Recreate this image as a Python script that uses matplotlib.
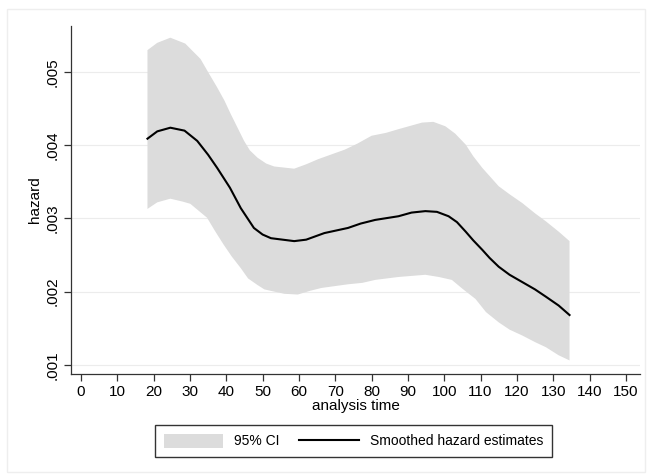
import matplotlib
matplotlib.use('Agg')
import matplotlib.pyplot as plt
from matplotlib.patches import Rectangle

plt.rcParams['font.family'] = ['Liberation Sans', 'DejaVu Sans']

# smoothed hazard estimate
t_line = [18.3, 21.0, 24.6, 28.5, 32.0, 35.0, 37.5, 41.0, 44.0, 47.6, 50.0, 52.3, 58.7, 62.0,
          67.0, 73.5, 77.0, 81.0, 87.4, 91.0, 94.8, 98.0, 101.2, 103.5, 105.9, 108.0, 110.5,
          112.5, 115.0, 118.0, 121.5, 125.0, 128.0, 131.5, 134.5]
hazard = [0.00409, 0.00419, 0.00424, 0.00420, 0.00406, 0.00387, 0.00369, 0.00342, 0.00314,
          0.00287, 0.00278, 0.00273, 0.00269, 0.00271, 0.00280, 0.00287, 0.00293, 0.00298,
          0.00303, 0.00308, 0.00310, 0.00309, 0.00303, 0.00295, 0.00282, 0.00270, 0.00257,
          0.00246, 0.00234, 0.00223, 0.00213, 0.00203, 0.00193, 0.00181, 0.00168]

# 95% CI, upper bound
t_up = [18.3, 21.0, 24.6, 28.7, 32.9, 35.0, 37.5, 39.5, 41.2, 44.9, 46.5, 48.6, 51.0, 53.2,
        58.7, 62.0, 65.3, 72.6, 76.0, 80.0, 84.0, 87.4, 93.9, 97.0, 100.3, 103.0, 105.9,
        108.0, 110.5, 115.0, 118.0, 121.5, 125.0, 128.0, 131.5, 134.5]
ci_up = [0.00530, 0.00540, 0.00547, 0.00539, 0.00518, 0.00500, 0.00479, 0.00461, 0.00443,
         0.00406, 0.00393, 0.00383, 0.00375, 0.00371, 0.00368, 0.00374, 0.00381, 0.00394,
         0.00402, 0.00413, 0.00417, 0.00422, 0.00431, 0.00432, 0.00426, 0.00416, 0.00401,
         0.00385, 0.00369, 0.00344, 0.00333, 0.00321, 0.00307, 0.00296, 0.00282, 0.00269]

# 95% CI, lower bound
t_lo = [18.3, 21.0, 24.6, 28.0, 30.1, 34.7, 37.0, 39.3, 41.5, 44.0, 46.0, 48.6, 50.5, 53.2,
        56.0, 59.7, 63.0, 66.2, 73.5, 77.5, 81.0, 87.4, 94.8, 98.5, 102.1, 105.0, 108.6,
        111.5, 115.0, 118.0, 121.5, 125.0, 128.0, 131.5, 134.5]
ci_lo = [0.00313, 0.00322, 0.00327, 0.00323, 0.00320, 0.00301, 0.00282, 0.00264, 0.00248,
         0.00232, 0.00218, 0.00209, 0.00203, 0.00200, 0.00197, 0.00196, 0.00201, 0.00205,
         0.00210, 0.00212, 0.00216, 0.00220, 0.00223, 0.00220, 0.00216, 0.00204, 0.00190,
         0.00172, 0.00158, 0.00148, 0.00140, 0.00131, 0.00124, 0.00113, 0.00106]

xticks = list(range(0, 151, 10))
yticks = [0.001, 0.002, 0.003, 0.004, 0.005]
ylabels = ['.001', '.002', '.003', '.004', '.005']

fig = plt.figure(figsize=(6.47, 4.75), dpi=100)
ax = fig.add_axes([71/647, 1 - 374/475, (640 - 71)/647, (374 - 26)/475])

# band polygon: upper bound forward, lower bound backward
poly_x = t_up + t_lo[::-1]
poly_y = ci_up + ci_lo[::-1]
band = ax.fill(poly_x, poly_y, color='#dcdcdc', lw=0, label='95% CI', zorder=2)
line, = ax.plot(t_line, hazard, color='black', lw=1.5, label='Smoothed hazard estimates', zorder=3)

ax.set_xlim(-2.75, 153.9)
ax.set_ylim(0.000874, 0.00563)
ax.set_xticks(xticks)
ax.set_yticks(yticks)
ax.set_yticklabels(ylabels, rotation=90, va='center')
ax.grid(axis='y', color='#ececec', lw=0.8, zorder=0)
ax.set_axisbelow(True)
for s in ['top', 'right']:
    ax.spines[s].set_visible(False)
for s in ['left', 'bottom']:
    ax.spines[s].set_color('#333333')
    ax.spines[s].set_linewidth(0.9)
ax.tick_params(labelsize=11, length=5, width=0.9, color='#333333', pad=3)
ax.set_xlabel('analysis time', fontsize=11, labelpad=0)
ax.set_ylabel('hazard', fontsize=11, labelpad=3)

fig.legend(handles=[band[0], line], labels=['95% CI', 'Smoothed hazard estimates'],
           loc='center', bbox_to_anchor=(353.5/647, 1 - 441/475), ncol=2, fontsize=10,
           frameon=True, fancybox=False, edgecolor='#333333', framealpha=1,
           handlelength=4.3, handleheight=1.2, columnspacing=1.4, borderpad=0.6)

# faint outer frame of the graph region
fig.patches.append(Rectangle((7/647, 1 - 472/475), 638/647, 463/475, transform=fig.transFigure,
                             fill=False, edgecolor='#eeeeee', lw=1))

fig.savefig('out.png', dpi=100)
